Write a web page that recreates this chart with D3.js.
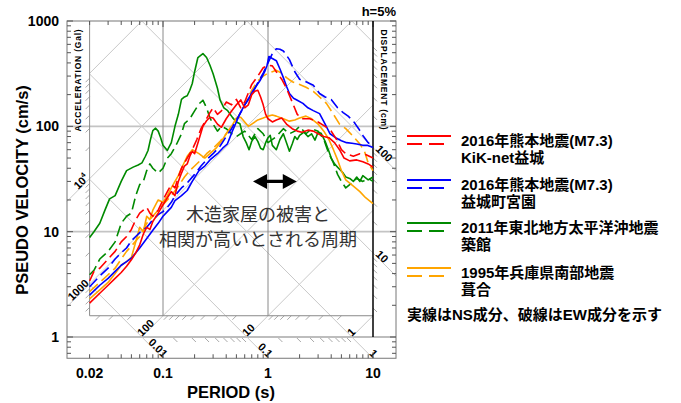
<!DOCTYPE html>
<html><head><meta charset="utf-8">
<script src="https://cdn.jsdelivr.net/npm/d3@7"></script>
<style>
body{margin:0;background:#fff;}
svg{display:block;}
text{font-family:"Liberation Sans",Arial,"Noto Sans CJK JP",sans-serif;}
</style></head><body>
<svg id="c" width="681" height="403"></svg>
<script>
// ---------------- DATA ----------------
const periodTickValues = [0.02, 0.1, 1, 10];
const periodTickLabels = ["0.02", "0.1", "1", "10"];
const velocityTickValues = [1, 10, 100, 1000];
const velocityTickLabels = ["1", "10", "100", "1000"];
const accelLines = [1, 10, 100, 1000, 10000, 100000];      // Gal
const accelLabels = ["1", "10", "100", "1000", "10^4", ""];
const dispLines = [0.01, 0.1, 1, 10, 100, 1000];            // cm
const dispLabels = ["0.01", "0.1", "1", "10", "100", ""];

// KiK-net Mashiki (2016 Kumamoto M7.3)
const kikNS = [[0.02,2.1],[0.025,2.6],[0.03,3.1],[0.035,3.6],[0.04,4.1],[0.045,4.7],[0.05,5.4],[0.055,6.3],[0.06,7.5],[0.065,9.5],[0.07,11],[0.075,10.5],[0.08,12.5],[0.09,15],[0.1,18],[0.11,21],[0.12,24],[0.13,22],[0.14,30],[0.15,36],[0.16,42],[0.17,44],[0.18,52],[0.19,58],[0.2,55],[0.22,75],[0.24,100],[0.26,113],[0.28,122],[0.3,120],[0.33,105],[0.36,98],[0.4,118],[0.45,140],[0.5,160],[0.55,178],[0.6,150],[0.65,160],[0.7,200],[0.75,215],[0.8,220],[0.85,190],[0.9,160],[0.95,130],[1.0,118],[1.1,110],[1.2,115],[1.35,120],[1.5,105],[1.7,95],[1.9,90],[2.1,88],[2.4,92],[2.7,90],[3.0,85],[3.4,80],[3.8,78],[4.3,70],[4.8,60],[5.3,50],[6.0,47],[7.0,48],[8.0,46],[9.0,44],[10,41]];
const kikEW = [[0.02,3.4],[0.022,4.2],[0.025,4.5],[0.03,5.5],[0.035,6.5],[0.04,8],[0.045,9],[0.05,10.5],[0.055,13],[0.06,15],[0.065,16],[0.07,17],[0.075,15],[0.08,14],[0.09,16],[0.1,20],[0.11,24],[0.12,28],[0.13,26],[0.14,33],[0.15,40],[0.17,50],[0.19,60],[0.21,75],[0.23,95],[0.25,110],[0.28,135],[0.3,150],[0.33,130],[0.36,140],[0.4,170],[0.45,160],[0.5,180],[0.55,150],[0.6,170],[0.7,250],[0.8,300],[0.9,360],[1.0,380],[1.1,375],[1.2,330],[1.35,280],[1.5,230],[1.7,170],[1.9,130],[2.1,118],[2.5,118],[3.0,110],[3.5,100],[4.0,90],[4.5,75],[5.0,60],[5.5,55],[6.5,52],[7.5,55],[8.5,54],[10,50]];
// Mashiki town Miyazono
const miyNS = [[0.02,2.5],[0.025,3.1],[0.03,3.6],[0.035,4.2],[0.04,4.8],[0.045,5.2],[0.05,5.6],[0.06,7],[0.07,8.6],[0.08,10.3],[0.09,12],[0.1,14],[0.11,15.5],[0.12,17],[0.13,19.7],[0.15,22],[0.17,24.6],[0.19,30],[0.22,38],[0.25,42],[0.28,48],[0.33,55],[0.37,62],[0.41,68],[0.46,91],[0.5,110],[0.54,132],[0.6,160],[0.64,177],[0.72,218],[0.84,272],[0.93,330],[0.98,380],[1.02,460],[1.1,440],[1.2,420],[1.3,350],[1.4,290],[1.5,240],[1.6,205],[1.75,185],[1.9,177],[2.15,165],[2.4,150],[2.7,141],[3.1,132],[3.5,105],[3.9,85],[4.5,77],[5.0,73],[5.6,70],[6.3,69],[7,68],[8,66],[8.8,66],[10,63]];
const miyEW = [[0.02,3.0],[0.025,3.8],[0.03,4.5],[0.035,5.5],[0.04,6.3],[0.045,7],[0.05,8.2],[0.055,9],[0.06,9.8],[0.07,11],[0.08,13],[0.09,14.5],[0.1,15.5],[0.11,17],[0.12,19],[0.13,22],[0.15,26],[0.17,29],[0.2,35],[0.23,42],[0.27,50],[0.3,55],[0.35,65],[0.4,80],[0.45,95],[0.5,115],[0.55,135],[0.6,160],[0.7,200],[0.8,260],[0.9,320],[1.0,400],[1.1,490],[1.2,545],[1.3,540],[1.4,520],[1.6,430],[1.8,330],[2.0,280],[2.3,265],[2.7,245],[3.1,205],[3.5,190],[4.0,180],[4.6,150],[5.2,135],[5.8,125],[6.5,112],[7.3,95],[8.0,82],[9.0,70],[10,64]];
// Tsukidate (2011 Tohoku)
const tsuNS = [[0.02,8.8],[0.022,10],[0.025,12],[0.028,16],[0.031,20.5],[0.035,22],[0.04,30],[0.045,38],[0.052,41],[0.058,43],[0.063,45],[0.068,52],[0.072,59],[0.076,75],[0.08,91],[0.085,96],[0.09,90],[0.095,78],[0.1,66],[0.11,59],[0.12,70],[0.13,100],[0.14,130],[0.15,180],[0.16,190],[0.17,195],[0.18,220],[0.19,255],[0.2,330],[0.215,450],[0.24,490],[0.26,450],[0.28,380],[0.3,316],[0.33,230],[0.35,177],[0.38,150],[0.41,142],[0.46,121],[0.5,110],[0.54,106],[0.58,80],[0.62,70],[0.66,60],[0.7,72],[0.75,80],[0.8,72],[0.85,62],[0.9,60],[0.95,70],[1.0,78],[1.05,82],[1.1,66],[1.2,60],[1.3,75],[1.4,85],[1.5,70],[1.6,58],[1.7,68],[1.8,80],[1.9,75],[2.0,82],[2.2,88],[2.4,80],[2.6,85],[2.8,74],[3.0,88],[3.2,86],[3.5,72],[3.8,58],[4.0,50],[4.3,44],[4.7,40],[5.2,36],[5.5,33],[6.0,32],[6.5,30],[7.0,33],[7.5,30],[8.0,34],[9.0,31],[10,33]];
const tsuEW = [[0.02,3.9],[0.022,4.3],[0.025,5.5],[0.03,6.5],[0.035,8],[0.04,12],[0.045,14],[0.05,15],[0.055,22],[0.06,28],[0.065,30],[0.07,38],[0.075,44],[0.08,40],[0.09,36],[0.1,40],[0.11,50],[0.12,55],[0.135,68],[0.15,85],[0.16,106],[0.18,118],[0.2,140],[0.22,163],[0.24,177],[0.26,150],[0.28,120],[0.3,105],[0.33,90],[0.36,100],[0.4,95],[0.45,85],[0.5,80],[0.6,90],[0.7,75],[0.8,95],[0.9,85],[1.0,70],[1.2,80],[1.4,95],[1.6,85],[1.8,90],[2.0,100],[2.3,85],[2.6,95],[3.0,90],[3.4,75],[3.8,55],[4.2,45],[4.6,35],[5.0,30],[5.5,26],[6.0,28],[7.0,32],[8.0,30],[9.0,32],[10,30]];
// Fukiai (1995 Hyogo-ken Nanbu)
const fukNS = [[0.02,2.3],[0.025,2.8],[0.03,3.3],[0.035,4],[0.04,4.8],[0.045,5.2],[0.05,5.7],[0.055,8],[0.06,11],[0.065,10],[0.07,14],[0.075,13],[0.08,16],[0.09,20],[0.1,19],[0.11,22],[0.12,26],[0.13,30],[0.14,34],[0.15,40],[0.17,52],[0.19,60],[0.22,55],[0.25,50],[0.28,55],[0.32,62],[0.36,72],[0.4,85],[0.45,100],[0.5,120],[0.55,122],[0.6,110],[0.65,100],[0.7,105],[0.8,115],[0.9,120],[1.0,125],[1.1,128],[1.2,125],[1.4,118],[1.6,112],[1.8,115],[2.0,120],[2.3,125],[2.6,118],[3.0,105],[3.4,90],[3.8,75],[4.2,60],[4.6,48],[5.0,38],[5.5,31],[6.5,27],[7.5,24],[8.5,21],[10,18.5]];
const fukEW = [[0.02,2.7],[0.025,3.3],[0.03,3.9],[0.035,4.5],[0.04,5.5],[0.045,6.5],[0.05,7.3],[0.06,9],[0.07,12],[0.08,14],[0.09,16],[0.1,18],[0.12,22],[0.14,27],[0.16,33],[0.18,38],[0.2,42],[0.23,48],[0.26,55],[0.3,62],[0.35,72],[0.4,85],[0.45,100],[0.5,115],[0.6,160],[0.7,220],[0.8,270],[0.9,300],[1.0,320],[1.1,330],[1.2,340],[1.35,320],[1.5,290],[1.7,265],[2.0,250],[2.3,235],[2.7,215],[3.1,190],[3.6,165],[4.2,130],[4.8,105],[5.5,95],[6.5,80],[7.5,68],[8.3,58],[9,45],[10,38]];

const legendTitles = [["2016年熊本地震(M7.3)","KiK-net益城"],["2016年熊本地震(M7.3)","益城町宮園"],["2011年東北地方太平洋沖地震","築館"],["1995年兵庫県南部地震","葺合"]];
const legendColors = ["#ff0000","#0000ff","#008a00","#ffa500"];
const arrowPeriods = [0.72, 1.88];
const arrowVelocity = 30;
const noteLines = ["木造家屋の被害と","相関が高いとされる周期"];
const footnote = "実線はNS成分、破線はEW成分を示す";

// ---------------- SCALES ----------------
const svg = d3.select("#c");
const x = d3.scaleLog().domain([0.1, 10]).range([163, 373]);
const y = d3.scaleLog().domain([1, 1000]).range([337, 21]);
const TWO_PI = 2*Math.PI;
const Tmin = 0.02, Tmax = 10, Vtop = 1000, Vbot = 10/TWO_PI, Vout = TWO_PI/10;
const xOL = 67, xOR = 396;
const TOL = x.invert(xOL), TOR = x.invert(xOR);
const yTop = y(Vtop), yIB = y(Vbot), yAx = y(1), yOB = y(Vout);
const xIL = x(Tmin), xIR = x(Tmax);

const gGrid = svg.append("g");
const diag = "#c9c9c9";
[10,100].forEach(v=>{
  gGrid.append("line").attr("x1",xOL).attr("x2",xOR).attr("y1",y(v)).attr("y2",y(v)).attr("stroke","#c4c4c4").attr("stroke-width",1.6);
});
gGrid.append("line").attr("x1",xOL).attr("x2",xOR).attr("y1",yAx).attr("y2",yAx).attr("stroke","#bdbdbd").attr("stroke-width",2);

const accV = (A,T)=>A*T/TWO_PI;
const dispV = (D,T)=>TWO_PI*D/T;
function seg(T1,V1,T2,V2,col,w){
  gGrid.append("line").attr("x1",x(T1)).attr("y1",y(V1)).attr("x2",x(T2)).attr("y2",y(V2))
    .attr("stroke",col).attr("stroke-width",w||1);
}
function label(px,py,ang,anchor,txt){
  const t = gGrid.append("text").attr("transform",`translate(${px},${py}) rotate(${ang})`)
    .attr("text-anchor",anchor).attr("dominant-baseline","central")
    .attr("font-size",11).attr("font-weight","bold").attr("fill","#000");
  if(txt.indexOf("^")>=0){
    const p = txt.split("^");
    t.append("tspan").text(p[0]);
    t.append("tspan").attr("font-size",7).attr("dy",-4).text(p[1]);
  } else t.text(txt);
}
const s2 = Math.SQRT1_2;
accelLines.forEach((A,i)=>{
  const tb = TWO_PI*Vbot/A;
  const t0 = Math.max(Tmin,tb), t1 = Math.min(Tmax, TWO_PI*Vtop/A);
  if(t1>t0) seg(t0,accV(A,t0),t1,accV(A,t1),diag);
  if(!accelLabels[i]) return;
  if(tb>=Tmin){
    const te = TWO_PI*1/A;
    seg(tb,Vbot,te,1,diag);
    label(x(te)-4*s2, y(1)-4*s2, -45, "start", accelLabels[i]);
  } else {
    seg(Tmin,accV(A,Tmin),TOL,accV(A,TOL),diag);
    label(xIL-4*s2, y(accV(A,Tmin))-4*s2, -45, "end", accelLabels[i]);
  }
});
dispLines.forEach((D,i)=>{
  const tb = TWO_PI*D/Vbot;
  const t0 = Math.max(Tmin, TWO_PI*D/Vtop), t1 = Math.min(Tmax, tb);
  if(t1>t0) seg(t0,dispV(D,t0),t1,dispV(D,t1),diag);
  if(!dispLabels[i]) return;
  if(tb<=Tmax){
    const te = TWO_PI*D/Vout;
    seg(tb,Vbot,te,Vout,diag);
    label(x(te)+4*s2, y(Vout)-4*s2, 45, "end", dispLabels[i]);
  } else {
    seg(Tmax,dispV(D,Tmax),TOR,dispV(D,TOR),diag);
    label(xIR+7*s2, y(dispV(D,Tmax))-1*s2, 45, "start", dispLabels[i]);
  }
});
const minorMult = [2,3,4,5,6,7,8,9];
[1,10,100,1000,10000].forEach(dec=>minorMult.forEach(k=>{
  const A = k*dec;
  const tb = TWO_PI*Vbot/A;
  if(tb>Tmin && tb<Tmax){ const px=x(tb); gGrid.append("line").attr("x1",px).attr("y1",yIB).attr("x2",px-4).attr("y2",yIB+4).attr("stroke","#aaa"); }
  const vl = accV(A,Tmin);
  if(vl>Vbot && vl<Vtop && tb<Tmin){ const py=y(vl); gGrid.append("line").attr("x1",xIL).attr("y1",py).attr("x2",xIL-4).attr("y2",py+4).attr("stroke","#aaa"); }
}));
[0.01,0.1,1,10,100].forEach(dec=>minorMult.forEach(k=>{
  const D = k*dec;
  const ta = TWO_PI*D/1;
  if(ta>TOL && ta<Tmax){ const px=x(ta); gGrid.append("line").attr("x1",px).attr("y1",yAx+1).attr("x2",px+4).attr("y2",yAx+5).attr("stroke","#aaa"); }
  const vr = dispV(D,Tmax);
  if(vr>Vbot && vr<Vtop){ const py=y(vr); gGrid.append("line").attr("x1",xIR).attr("y1",py).attr("x2",xIR+4).attr("y2",py+4).attr("stroke","#aaa"); }
}));

[0.1,1].forEach(t=>{
  gGrid.append("line").attr("x1",x(t)).attr("x2",x(t)).attr("y1",yTop).attr("y2",yIB).attr("stroke","#8a8a8a").attr("stroke-width",1);
});
gGrid.append("line").attr("x1",xIL).attr("x2",xIL).attr("y1",yTop).attr("y2",yIB).attr("stroke","#8a8a8a");
gGrid.append("line").attr("x1",xIL).attr("x2",xIR).attr("y1",yIB).attr("y2",yIB).attr("stroke","#8a8a8a");

const gF = svg.append("g");
gF.append("rect").attr("x",xOL).attr("y",yTop).attr("width",xOR-xOL).attr("height",yOB-yTop)
  .attr("fill","none").attr("stroke","#777").attr("stroke-width",1);
const vTicks=[];
[0.1,1,10,100].forEach(d=>[1,2,3,4,5,6,7,8,9].forEach(k=>{const v=k*d; if(v>=Vout && v<=1000) vTicks.push(v);}));
vTicks.push(1000);
vTicks.forEach(v=>{
  const L = velocityTickValues.includes(v)?6:4;
  gF.append("line").attr("x1",xOL).attr("x2",xOL+L).attr("y1",y(v)).attr("y2",y(v)).attr("stroke","#555");
  gF.append("line").attr("x1",xOR).attr("x2",xOR-L).attr("y1",y(v)).attr("y2",y(v)).attr("stroke","#555");
});
const tTicks=[];
[0.01,0.1,1,10].forEach(d=>[1,2,3,4,5,6,7,8,9].forEach(k=>{const t=k*d; if(t>=TOL && t<=TOR) tTicks.push(t);}));
tTicks.forEach(t=>{
  const L = [0.1,1,10].some(m=>Math.abs(m-t)<1e-9)?6:4;
  gF.append("line").attr("x1",x(t)).attr("x2",x(t)).attr("y1",yOB).attr("y2",yOB-L).attr("stroke","#555");
  gF.append("line").attr("x1",x(t)).attr("x2",x(t)).attr("y1",yTop).attr("y2",yTop+L).attr("stroke","#555");
});
gF.append("line").attr("x1",xIR).attr("x2",xIR).attr("y1",yTop).attr("y2",yAx).attr("stroke","#000").attr("stroke-width",1.5);

velocityTickValues.forEach((v,i)=>{
  gF.append("text").attr("x",59).attr("y",y(v)).attr("dy","0.36em").attr("text-anchor","end")
    .attr("font-size",14).attr("font-weight","bold").text(velocityTickLabels[i]);
});
periodTickValues.forEach((t,i)=>{
  gF.append("text").attr("x",x(t)).attr("y",378).attr("text-anchor","middle")
    .attr("font-size",14).attr("font-weight","bold").text(periodTickLabels[i]);
});
gF.append("text").attr("x",231).attr("y",398).attr("text-anchor","middle")
  .attr("font-size",16.5).attr("font-weight","bold").text("PERIOD (s)");
gF.append("text").attr("transform","translate(28,190) rotate(-90)").attr("text-anchor","middle")
  .attr("font-size",16.5).attr("font-weight","bold").text("PSEUDO VELOCITY (cm/s)");
gF.append("text").attr("x",396).attr("y",16).attr("text-anchor","end")
  .attr("font-size",13).attr("font-weight","bold").text("h=5%");
gF.append("text").attr("transform","translate(78,80) rotate(-90)").attr("text-anchor","middle")
  .attr("dominant-baseline","central").attr("font-size",8.5).attr("font-weight","bold").attr("letter-spacing",0.8).text("ACCELERATION (Gal)");
gF.append("text").attr("transform","translate(384,80) rotate(90)").attr("text-anchor","middle")
  .attr("dominant-baseline","central").attr("font-size",8.5).attr("font-weight","bold").attr("letter-spacing",0.8).text("DISPLACEMENT (cm)");

// ---------------- CURVES ----------------
const dataMap = {kikNS,kikEW,miyNS,miyEW,tsuNS,tsuEW,fukNS,fukEW};
const colorOf = {kik:legendColors[0],miy:legendColors[1],tsu:legendColors[2],fuk:legendColors[3]};
const line = d3.line().x(d=>x(d[0])).y(d=>y(d[1]));
const gC = svg.append("g");
const drawOrder = ["tsuEW","tsuNS","fukEW","fukNS","miyEW","miyNS","kikEW","kikNS"];
drawOrder.forEach(n=>{
  gC.append("path").datum(dataMap[n]).attr("d",line).attr("fill","none")
    .attr("stroke",colorOf[n.slice(0,3)]).attr("stroke-width",1.6)
    .attr("stroke-linejoin","round")
    .attr("stroke-dasharray", n.endsWith("EW")?"11,5":null);
});

const ax1 = x(arrowPeriods[0]), ax2 = x(arrowPeriods[1]), ay = y(arrowVelocity);
const hl = 14, hh = 7.5, sh = 1.6;
svg.append("path").attr("fill","#000").attr("d",
  `M${ax1},${ay} L${ax1+hl},${ay-hh} L${ax1+hl},${ay-sh} L${ax2-hl},${ay-sh} L${ax2-hl},${ay-hh} L${ax2},${ay} L${ax2-hl},${ay+hh} L${ax2-hl},${ay+sh} L${ax1+hl},${ay+sh} L${ax1+hl},${ay+hh} Z`);
noteLines.forEach((s,i)=>{
  svg.append("text").attr("x",258).attr("y",221+i*25).attr("text-anchor","middle")
    .attr("font-family","'Noto Sans CJK JP',sans-serif").attr("font-size",18).attr("fill","#333").text(s);
});

const gL = svg.append("g");
const legY = [136, 180, 223, 268];
legendTitles.forEach((tt,i)=>{
  const yy = legY[i];
  gL.append("line").attr("x1",407).attr("x2",451).attr("y1",yy).attr("y2",yy).attr("stroke",legendColors[i]).attr("stroke-width",2);
  gL.append("line").attr("x1",407).attr("x2",451).attr("y1",yy+8).attr("y2",yy+8).attr("stroke",legendColors[i]).attr("stroke-width",2).attr("stroke-dasharray","15,7");
  gL.append("text").attr("x",461).attr("y",yy+10).attr("font-size",15).attr("font-weight","bold").text(tt[0]);
  gL.append("text").attr("x",461).attr("y",yy+27).attr("font-size",15).attr("font-weight","bold").text(tt[1]);
});
gL.append("text").attr("x",407).attr("y",320).attr("font-size",15).attr("font-weight","bold").text(footnote);
</script>
</body></html>
